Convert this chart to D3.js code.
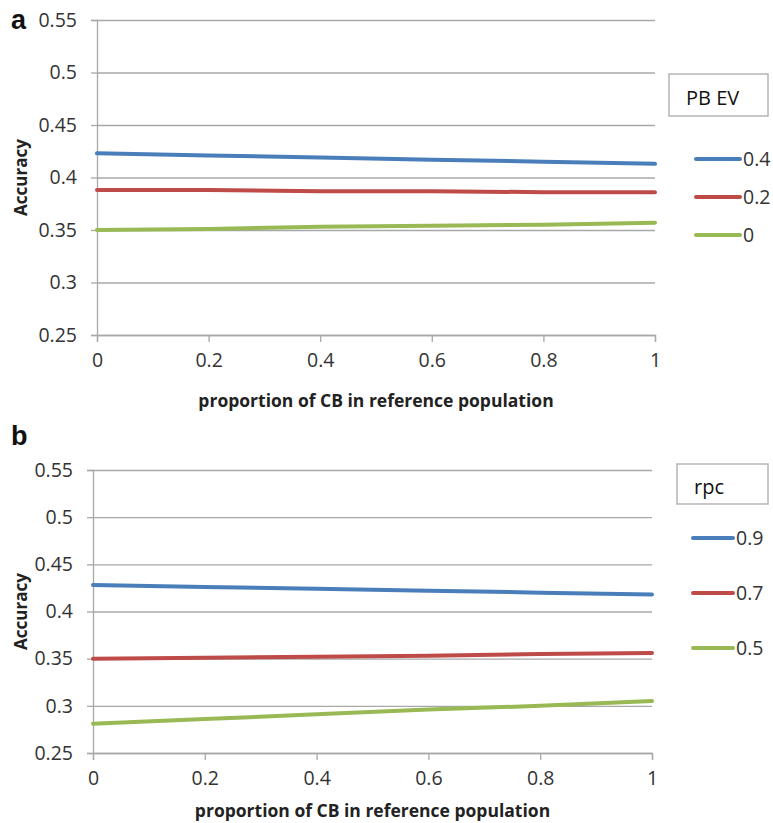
<!DOCTYPE html>
<html>
<head>
<meta charset="utf-8">
<script src="https://cdn.jsdelivr.net/npm/d3@7"></script>
<style>
  html, body { margin: 0; padding: 0; background: #fff; }
  svg { display: block; }
  .tick text { font-family: "Open Sans", sans-serif; }
</style>
</head>
<body>
<svg id="chart" width="773" height="823"></svg>
<script>
// ---- data ----
const proportions = [0, 0.2, 0.4, 0.6, 0.8, 1];
const xTickValues = [0, 0.2, 0.4, 0.6, 0.8, 1];
const xTickLabels = ["0", "0.2", "0.4", "0.6", "0.8", "1"];
const yTickValues = [0.25, 0.3, 0.35, 0.4, 0.45, 0.5, 0.55];
const yTickLabels = ["0.25", "0.3", "0.35", "0.4", "0.45", "0.5", "0.55"];

const panelALegendTitle = "PB EV";
const panelANames = ["0.4", "0.2", "0"];
const panelA_pbev04 = [0.423, 0.421, 0.419, 0.417, 0.415, 0.413];
const panelA_pbev02 = [0.388, 0.388, 0.387, 0.387, 0.386, 0.386];
const panelA_pbev0  = [0.350, 0.351, 0.353, 0.354, 0.355, 0.357];

const panelBLegendTitle = "rpc";
const panelBNames = ["0.9", "0.7", "0.5"];
const panelB_rpc09 = [0.428, 0.426, 0.424, 0.422, 0.420, 0.418];
const panelB_rpc07 = [0.350, 0.351, 0.352, 0.353, 0.355, 0.356];
const panelB_rpc05 = [0.281, 0.286, 0.291, 0.296, 0.300, 0.305];

const seriesColors = ["#4A7EBB", "#BE4B48", "#98B954"];
const xTitle = "proportion of CB in reference population";
const yTitle = "Accuracy";

// ---- drawing ----
const svg = d3.select("#chart");
const gridColor = "#a8a8a8";
const textColor = "#333";
const tickFont = 19.5;

function drawPanel(cfg) {
  const x = d3.scaleLinear().domain([0, 1]).range([cfg.left, cfg.right]);
  const y = d3.scaleLinear().domain([0.25, 0.55]).range([cfg.bottom, cfg.top]);
  const g = svg.append("g");

  // gridlines
  g.append("g")
    .attr("transform", `translate(${cfg.left},0)`)
    .call(d3.axisLeft(y).tickValues(yTickValues).tickSize(-(cfg.right - cfg.left)).tickFormat(""))
    .call(s => s.select(".domain").remove())
    .call(s => s.selectAll("line").attr("stroke", gridColor).attr("stroke-width", 1.3));

  // y axis
  const yAx = g.append("g")
    .attr("transform", `translate(${cfg.left},0)`)
    .call(d3.axisLeft(y).tickValues(yTickValues).tickSize(6).tickPadding(14)
      .tickFormat((d, i) => yTickLabels[i]));
  yAx.select(".domain").attr("stroke", gridColor).attr("stroke-width", 1.3);
  yAx.selectAll(".tick line").attr("stroke", gridColor).attr("stroke-width", 1.3);
  yAx.selectAll(".tick text").attr("font-size", tickFont).attr("fill", textColor);

  // x axis
  const xAx = g.append("g")
    .attr("transform", `translate(0,${cfg.bottom})`)
    .call(d3.axisBottom(x).tickValues(xTickValues).tickSize(7).tickPadding(11)
      .tickFormat((d, i) => xTickLabels[i]));
  xAx.select(".domain").attr("stroke", gridColor).attr("stroke-width", 1.3);
  xAx.selectAll(".tick line").attr("stroke", gridColor).attr("stroke-width", 1.3);
  xAx.selectAll(".tick text").attr("font-size", tickFont).attr("fill", textColor);

  // lines
  const line = d3.line().x((d, i) => x(proportions[i])).y(d => y(d));
  cfg.series.forEach((s, i) => {
    g.append("path")
      .datum(s)
      .attr("fill", "none")
      .attr("stroke", seriesColors[i])
      .attr("stroke-width", 4)
      .attr("stroke-linecap", "round")
      .attr("d", line);
  });

  // axis titles
  g.append("text")
    .attr("x", (cfg.left + cfg.right) / 2)
    .attr("y", cfg.xTitleY)
    .attr("text-anchor", "middle")
    .attr("font-family", "'Open Sans', sans-serif")
    .attr("font-weight", "bold")
    .attr("font-size", 17.5)
    .attr("fill", "#222")
    .text(xTitle);

  g.append("text")
    .attr("transform", `translate(${cfg.yTitleX},${(cfg.top + cfg.bottom) / 2}) rotate(-90)`)
    .attr("text-anchor", "middle")
    .attr("font-family", "'Open Sans', sans-serif")
    .attr("font-weight", "bold")
    .attr("font-size", 17)
    .attr("fill", "#222")
    .text(yTitle);

  // panel letter
  g.append("text")
    .attr("x", 11)
    .attr("y", cfg.letterY)
    .attr("font-family", "'Liberation Sans', Arial, sans-serif")
    .attr("font-weight", "bold")
    .attr("font-size", 27)
    .attr("fill", "#111")
    .text(cfg.letter);

  // legend box
  const lb = cfg.legendBox;
  g.append("rect")
    .attr("x", lb.x).attr("y", lb.y).attr("width", lb.w).attr("height", lb.h)
    .attr("fill", "#fff").attr("stroke", "#b5b5b5").attr("stroke-width", 1.5);
  g.append("text")
    .attr("x", lb.tx).attr("y", lb.ty)
    .attr("font-family", "'Open Sans', sans-serif")
    .attr("font-size", 20)
    .attr("fill", "#111")
    .text(cfg.legendTitle);

  // legend entries
  cfg.names.forEach((n, i) => {
    const ly = cfg.legendYs[i];
    g.append("line")
      .attr("x1", cfg.legendX1).attr("x2", cfg.legendX2)
      .attr("y1", ly).attr("y2", ly)
      .attr("stroke", seriesColors[i]).attr("stroke-width", 4)
      .attr("stroke-linecap", "round");
    g.append("text")
      .attr("x", cfg.legendX2 + 3).attr("y", ly)
      .attr("dy", "0.35em")
      .attr("font-family", "'Open Sans', sans-serif")
      .attr("font-size", tickFont)
      .attr("fill", textColor)
      .text(n);
  });
}

drawPanel({
  letter: "a", letterY: 29,
  left: 97, right: 655, top: 20, bottom: 335,
  xTitleY: 407, yTitleX: 27,
  series: [panelA_pbev04, panelA_pbev02, panelA_pbev0],
  names: panelANames,
  legendTitle: panelALegendTitle,
  legendBox: { x: 669, y: 74, w: 99, h: 42, tx: 686, ty: 105 },
  legendX1: 696, legendX2: 740, legendYs: [159, 197, 235]
});

drawPanel({
  letter: "b", letterY: 445,
  left: 93, right: 652, top: 470, bottom: 753,
  xTitleY: 817, yTitleX: 27,
  series: [panelB_rpc09, panelB_rpc07, panelB_rpc05],
  names: panelBNames,
  legendTitle: panelBLegendTitle,
  legendBox: { x: 677, y: 464, w: 91, h: 40, tx: 694, ty: 494 },
  legendX1: 693, legendX2: 733, legendYs: [538, 593, 648]
});
</script>
</body>
</html>
